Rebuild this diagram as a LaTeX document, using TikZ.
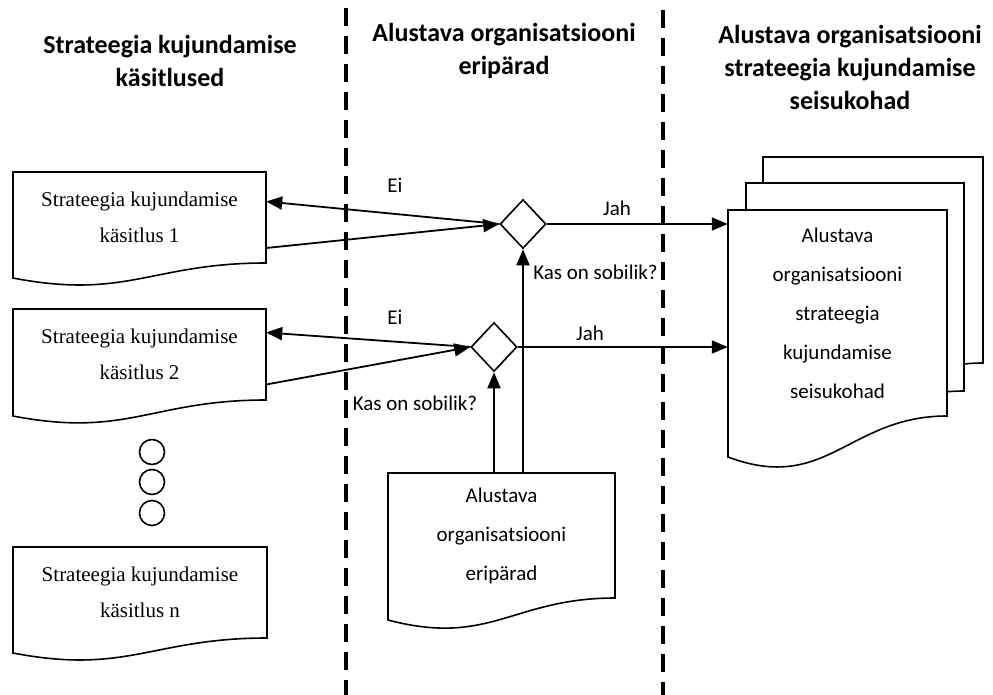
\documentclass[tikz,border=0pt]{standalone}
\usepackage{fontspec}
\setmainfont{Carlito}
\newfontfamily\timesfont{Liberation Serif}
\usetikzlibrary{shapes.geometric,arrows.meta,calc}

% Document symbol: straight top and sides, wavy bottom edge.
% #1 name, #2 left x, #3 top y, #4 width, #5 height at the right edge,
% #6 extra drop of the left corner, #7 depth of the wave, #8 style, #9 text
\newcommand\docshape[9]{%
  \draw[docline] (#2+#4,#3+#5) -- (#2+#4,#3) -- (#2,#3) -- (#2,#3+#5+#6)
    .. controls (#2+0.45*#4,#3+#5+#6+#7) and (#2+0.55*#4,#3+#5) .. cycle;
  \node[#8, minimum width=#4pt, minimum height=#5pt, inner sep=0pt]
    (#1) at (#2+#4/2,#3+#5/2) {#9};
}

\begin{document}
\begin{tikzpicture}[x=1pt,y=-1pt,
  docline/.style={line width=1.6pt, fill=white, line join=miter},
  conn/.style={line width=1.8pt, -{Triangle[length=16pt,width=13pt]}},
  lane/.style={line width=3.5pt, dash pattern=on 18pt off 10pt},
  head/.style={font=\bfseries\fontsize{26}{33}\selectfont, align=center},
  serifbox/.style={font=\timesfont\fontsize{21}{36}\selectfont, align=center},
  sansbox/.style={font=\fontsize{21}{39}\selectfont, align=center},
  lbl/.style={font=\fontsize{21}{25}\selectfont, inner sep=0pt},
  decision/.style={diamond, draw, line width=1.6pt, minimum width=46pt,
    minimum height=49pt, inner sep=0pt, fill=white},
  dot/.style={circle, draw, line width=1.6pt, minimum size=25pt, inner sep=0pt},
]
\useasboundingbox (0,0) rectangle (993,695);

% swimlane separators
\coordinate (lane1top) at (346,8);
\coordinate (lane1bot) at (346,695);
\coordinate (lane2top) at (663,10);
\coordinate (lane2bot) at (663,695);
\draw[lane] (lane1top) -- (lane1bot);
\draw[lane] (lane2top) -- (lane2bot);

% lane headings
\node[head] (h1) at (170,61) {Strateegia kujundamise\\käsitlused};
\node[head] (h2) at (504,51) {Alustava organisatsiooni\\eripärad};
\node[head] (h3) at (850,67) {Alustava organisatsiooni\\strateegia kujundamise\\seisukohad};

% strategy approaches
\docshape{b1}{13}{172}{253}{91}{15}{22}{serifbox}{Strateegia kujundamise\\käsitlus 1}
\docshape{b2}{13}{309}{253}{91}{16}{22}{serifbox}{Strateegia kujundamise\\käsitlus 2}
\docshape{bn}{13}{547}{254}{91}{15}{22}{serifbox}{Strateegia kujundamise\\käsitlus n}

% ellipsis circles
\node[dot] (c1) at (152,452) {};
\node[dot] (c2) at (152,482) {};
\node[dot] (c3) at (152,513) {};

% organisation characteristics
\docshape{er}{388}{473}{227}{125}{22}{27}{sansbox}{Alustava\\organisatsiooni\\eripärad}

% stacked result documents
\docshape{st3}{763}{157}{220}{206}{41}{37}{sansbox}{}
\docshape{st2}{746}{183}{218}{208}{41}{37}{sansbox}{}
\docshape{st}{728}{210}{219}{206}{41}{37}{sansbox}{Alustava\\organisatsiooni\\strateegia\\kujundamise\\seisukohad}

% decisions
\node[decision] (d1) at (523,224) {};
\node[decision] (d2) at (494,347) {};

% connectors
\draw[conn] (d1.west) -- ([yshift=16pt]b1.east);
\draw[conn] ([yshift=-30.5pt]b1.east) -- (d1.west);
\draw[conn] (d2.west) -- ([yshift=22pt]b2.east);
\draw[conn] ([yshift=-30pt]b2.east) -- (d2.west);
\draw[conn] (d1.east) -- (d1.east -| st.west);
\draw[conn] (d2.east) -- (d2.east -| st.west);
\draw[conn] (er.north -| d1.south) -- (d1.south);
\draw[conn] (er.north -| d2.south) -- (d2.south);

% connector labels
\node[lbl] (ei1) at (395,185) {Ei};
\node[lbl] (ei2) at (395,317) {Ei};
\node[lbl] (jah1) at (617,208) {Jah};
\node[lbl] (jah2) at (590,333) {Jah};
\node[lbl] (q1) at (595.5,272) {Kas on sobilik?};
\node[lbl] (q2) at (415,403) {Kas on sobilik?};
\end{tikzpicture}
\end{document}
